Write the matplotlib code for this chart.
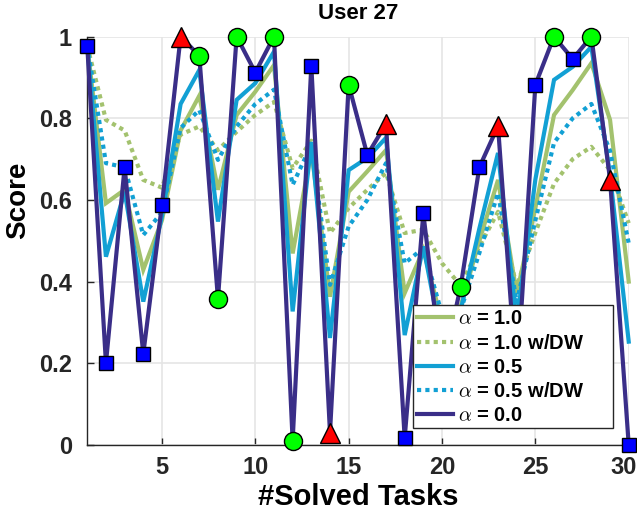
import matplotlib
matplotlib.use("Agg")
import matplotlib.pyplot as plt
import matplotlib.transforms as mtransforms
from matplotlib.patches import Rectangle
import numpy as np

plt.rcParams['font.family'] = ['Liberation Sans', 'DejaVu Sans']
plt.rcParams['font.weight'] = 'bold'
plt.rcParams['mathtext.fontset'] = 'cm'

tasks = list(range(1, 31))
alpha_10 = [0.977, 0.592, 0.625, 0.429, 0.55, 0.77, 0.855, 0.625, 0.808, 0.865,
            0.93, 0.469, 0.72, 0.363, 0.62, 0.67, 0.722, 0.372, 0.478, 0.30,
            0.34, 0.50, 0.649, 0.37, 0.58, 0.808, 0.869, 0.935, 0.796, 0.40]
alpha_10_dw = [0.977, 0.796, 0.77, 0.649, 0.63, 0.76, 0.78, 0.722, 0.767, 0.808,
               0.84, 0.678, 0.745, 0.519, 0.58, 0.625, 0.666, 0.519, 0.527, 0.445,
               0.39, 0.486, 0.571, 0.39, 0.52, 0.64, 0.70, 0.73, 0.673, 0.543]
alpha_05 = [0.977, 0.461, 0.62, 0.351, 0.56, 0.835, 0.918, 0.547, 0.845, 0.886,
            0.963, 0.327, 0.742, 0.262, 0.673, 0.703, 0.752, 0.269, 0.486, 0.25,
            0.33, 0.53, 0.715, 0.30, 0.65, 0.894, 0.926, 0.975, 0.66, 0.253]
alpha_05_dw = [0.977, 0.69, 0.68, 0.514, 0.57, 0.776, 0.82, 0.698, 0.78, 0.835,
               0.87, 0.637, 0.735, 0.392, 0.535, 0.60, 0.69, 0.445, 0.482, 0.32,
               0.33, 0.47, 0.617, 0.35, 0.55, 0.74, 0.80, 0.835, 0.72, 0.494]
alpha_00 = [0.977, 0.20, 0.68, 0.223, 0.588, 1.0, 0.953, 0.357, 1.0, 0.912,
            1.0, 0.01, 0.929, 0.03, 0.882, 0.71, 0.786, 0.017, 0.567, 0.18,
            0.388, 0.68, 0.781, 0.15, 0.882, 1.0, 0.945, 1.0, 0.65, 0.0]
# point class on the alpha=0.0 curve: 0 = square, 1 = circle, 2 = triangle
point_class = [0, 0, 0, 0, 0, 2, 1, 1, 1, 0,
               1, 1, 0, 2, 1, 0, 2, 0, 0, 0,
               1, 0, 2, 0, 0, 1, 0, 1, 2, 0]
legend_labels = [r'$\alpha$ = 1.0', r'$\alpha$ = 1.0 w/DW', r'$\alpha$ = 0.5',
                 r'$\alpha$ = 0.5 w/DW', r'$\alpha$ = 0.0']
title = 'User 27'
xticks = [5, 10, 15, 20, 25, 30]
yticks = [0, 0.2, 0.4, 0.6, 0.8, 1.0]
ytick_labels = ['0', '0.2', '0.4', '0.6', '0.8', '1']

green = '#a3c26e'
blue = '#12a0d4'
dark = '#3a2e88'
lw = 3.0

fig = plt.figure(figsize=(6.37, 5.15), dpi=100)
ax = fig.add_axes([0.137, 0.136, 0.850, 0.793])

series = [alpha_10, alpha_10_dw, alpha_05, alpha_05_dw, alpha_00]
styles = [(green, '-'), (green, (0, (1, 1))), (blue, '-'), (blue, (0, (1, 1))), (dark, '-')]
handles = []
for data, (c, ls), lab in zip(series, styles, legend_labels):
    h, = ax.plot(tasks, data, color=c, linestyle=ls, linewidth=lw, label=lab,
                 clip_on=False, solid_joinstyle='miter', zorder=3)
    handles.append(h)

marker_style = {0: dict(marker='s', color='#0000ff', ms=10),
                1: dict(marker='o', color='#00ff00', ms=13),
                2: dict(marker='^', color='#ff0000', ms=14)}
xs = np.array(tasks)
ys = np.array(alpha_00)
pc = np.array(point_class)
for k, st in marker_style.items():
    m = pc == k
    ax.plot(xs[m], ys[m], linestyle='none', marker=st['marker'], markersize=st['ms'],
            markerfacecolor=st['color'], markeredgecolor='black', markeredgewidth=1.0,
            clip_on=False, zorder=4)

ax.set_xlim(1, 30)
ax.set_ylim(0, 1)
ax.set_xticks(xticks)
ax.set_yticks(yticks)
ax.set_yticklabels(ytick_labels)
ax.tick_params(direction='in', labelsize=17, colors='#262626', length=5, width=1)
ax.tick_params(axis='y', pad=11)
ax.tick_params(axis='x', pad=8)
for lbl in ax.get_xticklabels() + ax.get_yticklabels():
    lbl.set_fontweight('bold')
last = ax.get_xticklabels()[-1]
last.set_transform(last.get_transform() + mtransforms.ScaledTranslation(-5 / 100, 0, fig.dpi_scale_trans))
ax.grid(True, color='#e5e5e5', linewidth=1.2)
ax.set_axisbelow(True)
for s in ['top', 'right']:
    ax.spines[s].set_visible(False)
for s in ['left', 'bottom']:
    ax.spines[s].set_color('#262626')
    ax.spines[s].set_linewidth(1.0)

ax.set_title(title, fontsize=16, fontweight='bold', pad=13)
ax.set_xlabel('#Solved Tasks', fontsize=21, fontweight='bold', labelpad=3)
ax.set_ylabel('Score', fontsize=20, fontweight='bold', labelpad=6)
ax.yaxis.set_label_coords(-0.104, 0.6)

# legend frame box (white, opaque) drawn in axes coordinates
frame = Rectangle((0.6016, 0.0416), 0.3694, 0.301, transform=ax.transAxes,
                  facecolor='white', edgecolor='#262626', linewidth=1.0,
                  zorder=9, clip_on=False)
ax.add_patch(frame)

leg = ax.legend(handles=handles, loc='upper left', bbox_to_anchor=(0.609, 0.332),
                fontsize=14.5, frameon=False, handlelength=1.78, handletextpad=0.25,
                labelspacing=0.26, borderpad=0, borderaxespad=0)
leg.set_zorder(10)
for t in leg.get_texts():
    t.set_fontweight('bold')

fig.savefig('out.png', dpi=100)
